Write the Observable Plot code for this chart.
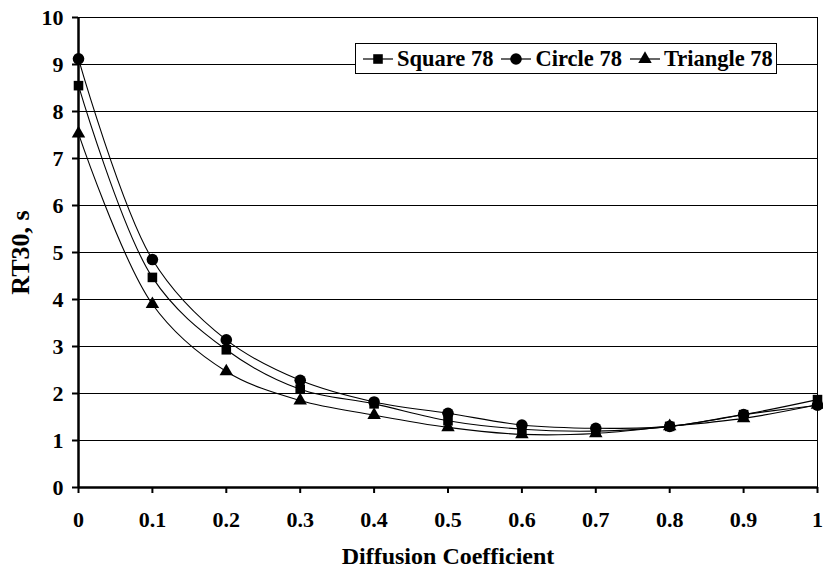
<!DOCTYPE html>
<html>
<head>
<meta charset="utf-8">
<script src="https://cdn.jsdelivr.net/npm/d3@7"></script>
<script src="https://cdn.jsdelivr.net/npm/@observablehq/plot@0.6"></script>
<style>
  html, body { margin: 0; padding: 0; background: #fff; }
  #wrap { position: relative; width: 823px; height: 570px; font-family: "Liberation Serif", "Times New Roman", serif; }
  #legend { position: absolute; left: 355px; top: 43px; height: 31px; box-sizing: border-box;
            border: 1px solid #000; background: #fff; display: flex; align-items: center; padding-left: 7px; padding-right: 3px;
            font-weight: bold; font-size: 22.5px; color: #000; white-space: nowrap; }
  #legend .item { display: flex; align-items: center; margin-right: 8px; }
  #legend .item:last-child { margin-right: 0; }
  #legend svg { margin-right: 4px; }
</style>
</head>
<body>
<div id="wrap"></div>
<script>
// ---- data ----
const xValues = [0, 0.1, 0.2, 0.3, 0.4, 0.5, 0.6, 0.7, 0.8, 0.9, 1];
const squareValues   = [8.55, 4.47, 2.93, 2.09, 1.78, 1.42, 1.24, 1.20, 1.30, 1.55, 1.87];
const circleValues   = [9.12, 4.85, 3.14, 2.28, 1.82, 1.58, 1.33, 1.26, 1.30, 1.55, 1.75];
const triangleValues = [7.53, 3.90, 2.47, 1.85, 1.54, 1.28, 1.13, 1.15, 1.30, 1.47, 1.76];
const seriesNames = ["Square 78", "Circle 78", "Triangle 78"];
const seriesSymbols = ["square", "circle", "triangle"];
const seriesRadii = [5.4, 5.8, 5.0];
const xTicks = [0, 0.1, 0.2, 0.3, 0.4, 0.5, 0.6, 0.7, 0.8, 0.9, 1];
const yTicks = [0, 1, 2, 3, 4, 5, 6, 7, 8, 9, 10];
const xTitle = "Diffusion Coefficient";
const yTitle = "RT30, s";

const seriesValues = [squareValues, circleValues, triangleValues];
const rows = seriesValues.flatMap((vals, s) =>
  vals.map((v, i) => ({x: xValues[i], y: v, series: seriesNames[s]})));

const dotMarks = seriesNames.map((name, s) =>
  Plot.dot(rows.filter(d => d.series === name),
    {x: "x", y: "y", symbol: seriesSymbols[s], r: seriesRadii[s], fill: "black", stroke: "none"}));

const chart = Plot.plot({
  width: 823,
  height: 570,
  marginLeft: 78,
  marginRight: 6,
  marginTop: 17,
  marginBottom: 83,
  style: {fontFamily: "'Liberation Serif', 'Times New Roman', serif", fontSize: "22px", fontWeight: "bold",
          color: "black", background: "white", overflow: "visible"},
  x: {domain: [0, 1]},
  y: {domain: [0, 10]},
  marks: [
    Plot.ruleY(yTicks, {stroke: "black", strokeWidth: 1}),
    Plot.ruleX([1], {stroke: "black", strokeWidth: 1}),
    Plot.line(rows, {x: "x", y: "y", z: "series", curve: "catmull-rom", stroke: "black", strokeWidth: 1.1}),
    ...dotMarks,
    Plot.ruleX([0], {stroke: "black", strokeWidth: 2.5}),
    Plot.ruleY([0], {stroke: "black", strokeWidth: 2.5}),
    Plot.axisX(xTicks, {tickSize: 6, tickPadding: 18, strokeWidth: 2, tickFormat: d => String(d), label: null}),
    Plot.axisY(yTicks, {tickSize: 6, tickPadding: 9, strokeWidth: 2, tickFormat: d => String(d), label: null}),
    Plot.text([xTitle], {frameAnchor: "bottom", dy: 76, fontSize: 24, fontWeight: "bold", fill: "black"}),
    Plot.text([yTitle], {frameAnchor: "left", textAnchor: "middle", dx: -58, rotate: -90, fontSize: 26, fontWeight: "bold", fill: "black"})
  ]
});

const wrap = document.getElementById("wrap");
wrap.appendChild(chart);

// legend overlay inside the plot area (top right)
const legend = document.createElement("div");
legend.id = "legend";
const symbolTypes = {square: d3.symbolSquare, circle: d3.symbolCircle, triangle: d3.symbolTriangle};
seriesNames.forEach((name, s) => {
  const item = document.createElement("div");
  item.className = "item";
  const svg = d3.create("svg").attr("width", 30).attr("height", 16);
  svg.append("line").attr("x1", 0).attr("x2", 30).attr("y1", 8).attr("y2", 8)
    .attr("stroke", "black").attr("stroke-width", 1.2);
  const r = seriesRadii[s];
  svg.append("path").attr("transform", "translate(15,8)")
    .attr("d", d3.symbol(symbolTypes[seriesSymbols[s]], Math.PI * r * r)())
    .attr("fill", "black");
  item.appendChild(svg.node());
  const span = document.createElement("span");
  span.textContent = name;
  item.appendChild(span);
  legend.appendChild(item);
});
wrap.appendChild(legend);
</script>
</body>
</html>
